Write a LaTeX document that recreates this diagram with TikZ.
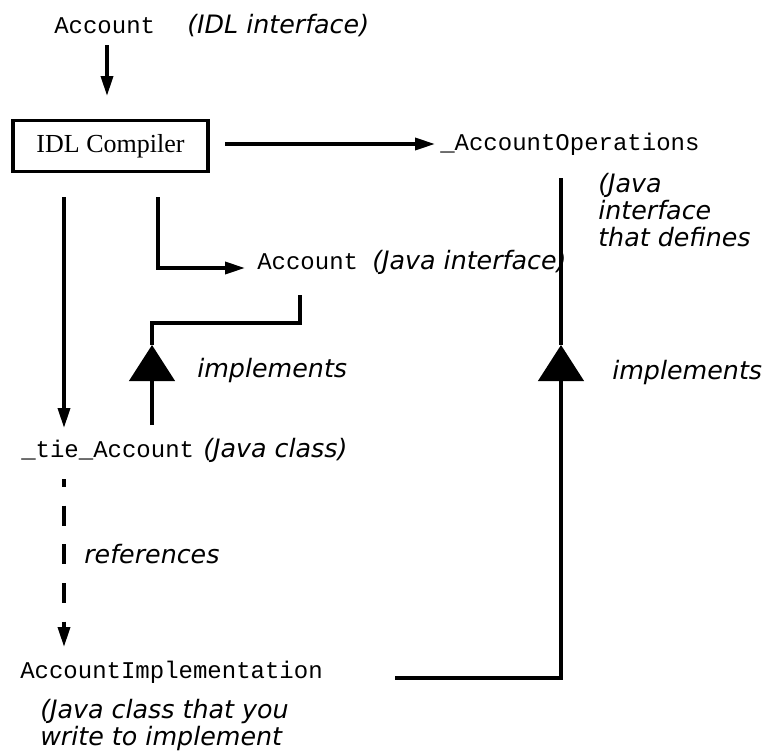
\documentclass[tikz,border=0pt]{standalone}
\usepackage{fontspec}
\setmainfont{Liberation Serif}
\newfontfamily\codefont{Liberation Mono}
\newfontfamily\notefont{DejaVu Sans}
\usetikzlibrary{arrows.meta}

\tikzset{
  code/.style={font=\codefont\fontsize{18}{20}\selectfont, inner sep=0pt, anchor=base west},
  note/.style={font=\notefont\itshape\fontsize{19}{20}\selectfont, inner sep=0pt, anchor=base west, align=left},
  flow/.style={line width=2.6pt, -{Triangle[length=15pt,width=9pt]}},
  link/.style={line width=2.6pt},
  isa/.style={line width=2.6pt, -{Triangle[length=27pt,width=34pt]}},
}

\begin{document}
\begin{tikzpicture}[x=0.75pt, y=-0.75pt]
    \useasboundingbox (0,0) rectangle (766,750);

    % texts
    \node[code] (idl) at (54,33) {Account};
    \node[note] (idlnote) at (187,33) {(IDL interface)};
    \node[draw, line width=2.6pt, minimum width=146pt, minimum height=38pt,
          font=\fontsize{19.5}{22}\selectfont] (comp) at (110.5,146) {IDL Compiler};
    \node[code] (ops) at (440,150) {\_AccountOperations};
    \node[note] (opsnote) at (598,246) {(Java\\interface\\that defines};
    \node[code] (jacc) at (257,269) {Account};
    \node[note] (jaccnote) at (372,269) {(Java interface)};
    \node[note] (impl1) at (197,377) {implements};
    \node[note] (impl2) at (612,379) {implements};
    \node[code] (tie) at (21,457) {\_tie\_Account};
    \node[note] (tienote) at (203,457) {(Java class)};
    \node[note] (refs) at (84,563) {references};
    \node[code] (impl) at (20,678) {AccountImplementation};
    \node[note] (implnote) at (40,745) {(Java class that you\\write to implement};

    % line ends
    \coordinate (idlout) at (107,45);
    \coordinate (compin) at (107,96);
    \coordinate (compout) at (225,144);
    \coordinate (opsin) at (435,144);
    \coordinate (tiefork) at (64,197);
    \coordinate (tiein) at (64,428);
    \coordinate (accfork) at (158,197);
    \coordinate (accin) at (245,268);
    \coordinate (accfoot) at (300,295);
    \coordinate (accbend) at (300,323);
    \coordinate (tiehead) at (152,345);
    \coordinate (tiefoot) at (152,425);
    \coordinate (refsout) at (64,479);
    \coordinate (refsin) at (64,647);
    \coordinate (implout) at (395,678);
    \coordinate (opshead) at (561,345);
    \coordinate (opsfoot) at (561,178);

    \draw[flow] (idlout) -- (compin);
    \draw[flow] (compout) -- (opsin);
    \draw[flow] (tiefork) -- (tiein);
    \draw[flow] (accfork) |- (accin);

    \draw[isa] (tiefoot) -- (tiehead);
    \draw[link] (tiehead) |- (accbend) -- (accfoot);

    \draw[flow, dash pattern=on 15pt off 14pt, dash phase=9pt] (refsout) -- (refsin);

    \draw[isa] (implout) -| (opshead);
    \draw[link] (opshead) -- (opsfoot);
\end{tikzpicture}
\end{document}
